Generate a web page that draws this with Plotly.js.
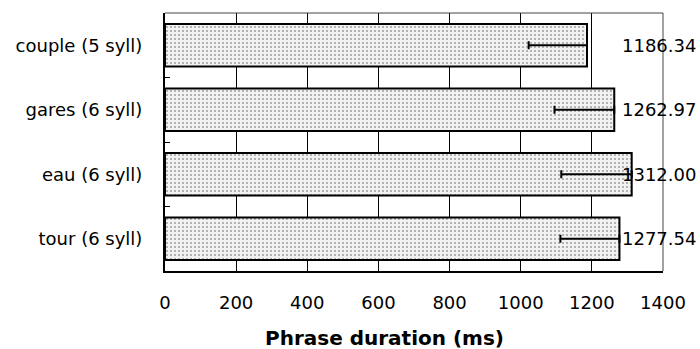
<!DOCTYPE html>
<html>
<head>
<meta charset="utf-8">
<script src="https://cdn.plot.ly/plotly-3.0.1.min.js"></script>
<style>
  html, body { margin: 0; padding: 0; background: #ffffff; }
  #chart { width: 700px; height: 349px; }
</style>
</head>
<body>
<div id="chart"></div>
<script>
// Phrase durations per carrier word (ms), with the spread shown below the mean
const categories = ['couple (5 syll)', 'gares (6 syll)', 'eau (6 syll)', 'tour (6 syll)'];
const durations = [1186.34, 1262.97, 1312.00, 1277.54];
const errorsMinus = [164, 168, 198, 166];
const errorsPlus = [0, 0, 0, 0];
const xTickValues = [0, 200, 400, 600, 800, 1000, 1200, 1400];

const FONT = 'DejaVu Sans, Arial, sans-serif';

const bars = {
  type: 'bar',
  orientation: 'h',
  y: categories,
  x: durations,
  width: 0.66,
  marker: {
    color: '#eeeeee',
    pattern: { shape: '.', fgcolor: '#a4a4a4', bgcolor: '#f2f2f2', size: 4, solidity: 0.22 },
    line: { color: '#000000', width: 2 }
  },
  error_x: {
    type: 'data',
    symmetric: false,
    array: errorsPlus,
    arrayminus: errorsMinus,
    color: '#000000',
    thickness: 2,
    width: 4
  },
  hoverinfo: 'skip'
};

// value labels sit in a column just inside the right frame
const LABEL_X = 1280;
const valueLabels = categories.map((c, i) => ({
  x: LABEL_X, y: c, xref: 'x', yref: 'y',
  text: durations[i].toFixed(2),
  showarrow: false, xanchor: 'left', yanchor: 'middle',
  font: { family: FONT, size: 18, color: '#000000' }
}));

const layout = {
  width: 700,
  height: 349,
  margin: { l: 165, r: 37, t: 13, b: 78 },
  paper_bgcolor: '#ffffff',
  plot_bgcolor: '#ffffff',
  showlegend: false,
  bargap: 0.34,
  xaxis: {
    range: [0, 1400],
    tickvals: xTickValues,
    ticktext: xTickValues.map(String),
    showgrid: true,
    gridcolor: '#000000',
    gridwidth: 1,
    zeroline: false,
    showline: true,
    linecolor: '#000000',
    linewidth: 1.5,
    ticks: '',
    ticklabelstandoff: 15,
    tickfont: { family: FONT, size: 18, color: '#000000' },
    fixedrange: true
  },
  yaxis: {
    type: 'category',
    autorange: 'reversed',
    showgrid: false,
    showline: true,
    linecolor: '#000000',
    linewidth: 2,
    ticks: 'inside',
    tickson: 'boundaries',
    ticklen: 5,
    tickwidth: 1,
    tickcolor: '#000000',
    ticklabelstandoff: 17,
    tickfont: { family: FONT, size: 18, color: '#000000' },
    fixedrange: true
  },
  shapes: [
    // top and right edges of the plot frame
    { type: 'line', xref: 'paper', yref: 'paper', x0: 0, x1: 1, y0: 1, y1: 1,
      line: { color: '#444444', width: 1 } },
    { type: 'line', xref: 'paper', yref: 'paper', x0: 1, x1: 1, y0: 0, y1: 1,
      line: { color: '#444444', width: 1 } }
  ],
  annotations: valueLabels.concat([{
    xref: 'paper', yref: 'paper', x: 0.4408, y: -0.26,
    xanchor: 'center', yanchor: 'middle', showarrow: false,
    text: 'Phrase duration (ms)',
    font: { family: FONT, size: 20, color: '#000000', weight: 700 }
  }])
};

Plotly.newPlot('chart', [bars], layout, { displayModeBar: false, staticPlot: true });
</script>
</body>
</html>
